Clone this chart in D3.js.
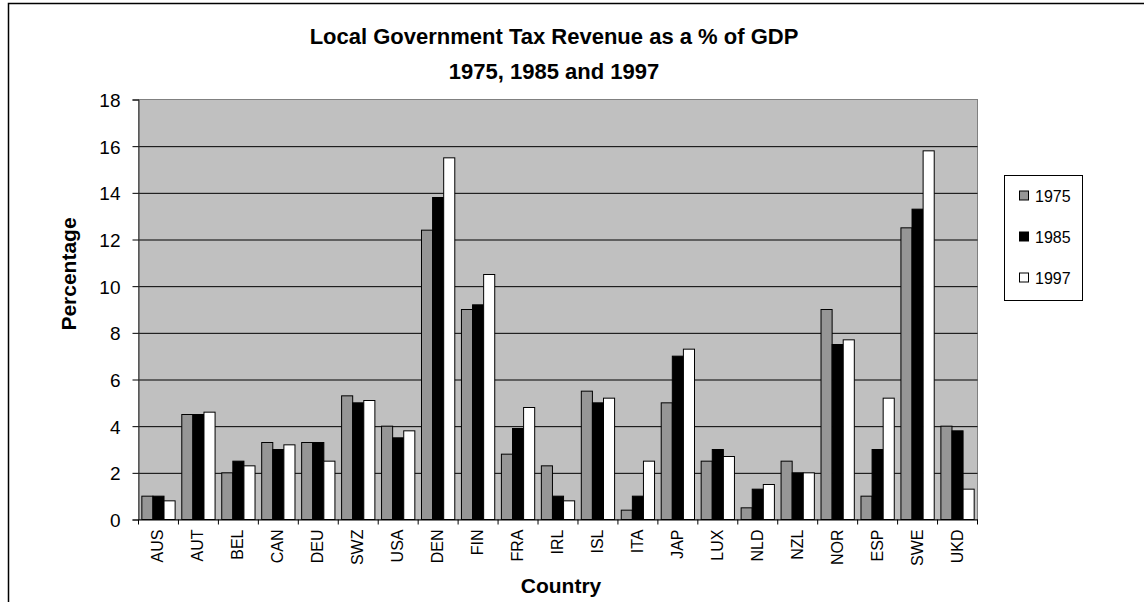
<!DOCTYPE html>
<html>
<head>
<meta charset="utf-8">
<script src="https://cdn.jsdelivr.net/npm/d3@7"></script>
<style>
  body { margin: 0; background: #fff; }
  svg { display: block; font-family: "Liberation Sans", Arial, sans-serif; }
  .axis text { fill: #000; }
</style>
</head>
<body>
<script>
let countries = ['AUS', 'AUT', 'BEL', 'CAN', 'DEU', 'SWZ', 'USA', 'DEN', 'FIN', 'FRA', 'IRL',
                 'ISL', 'ITA', 'JAP', 'LUX', 'NLD', 'NZL', 'NOR', 'ESP', 'SWE', 'UKD'];
let years = ['1975', '1985', '1997'];
let v1975 = [1.0, 4.5, 2.0, 3.3, 3.3, 5.3, 4.0, 12.4, 9.0, 2.8, 2.3, 5.5, 0.4, 5.0, 2.5, 0.5, 2.5, 9.0, 1.0, 12.5, 4.0];
let v1985 = [1.0, 4.5, 2.5, 3.0, 3.3, 5.0, 3.5, 13.8, 9.2, 3.9, 1.0, 5.0, 1.0, 7.0, 3.0, 1.3, 2.0, 7.5, 3.0, 13.3, 3.8];
let v1997 = [0.8, 4.6, 2.3, 3.2, 2.5, 5.1, 3.8, 15.5, 10.5, 4.8, 0.8, 5.2, 2.5, 7.3, 2.7, 1.5, 2.0, 7.7, 5.2, 15.8, 1.3];
let yTicks = [0, 2, 4, 6, 8, 10, 12, 14, 16, 18];
let titleLines = ['Local Government Tax Revenue as a % of GDP', '1975, 1985 and 1997'];

let colors = { '1975': '#969696', '1985': '#000000', '1997': '#ffffff' };

let rows = countries.map(function(c, i) {
  return { country: c, values: [
    { year: '1975', value: v1975[i] },
    { year: '1985', value: v1985[i] },
    { year: '1997', value: v1997[i] }
  ]};
});

let W = 1144, H = 602;
let plot = { left: 138.5, right: 977.5, top: 99.5, bottom: 519.5 };

let svg = d3.select('body').append('svg')
    .attr('width', W)
    .attr('height', H);

// chart border (runs off the picture on right and bottom)
svg.append('rect')
    .attr('x', 8.5).attr('y', 3.5)
    .attr('width', 1300).attr('height', 800)
    .attr('fill', '#fff')
    .attr('stroke', '#000')
    .attr('stroke-width', 1.5);

let x0 = d3.scaleBand()
    .domain(countries)
    .range([plot.left, plot.right])
    .paddingInner(0.167)
    .paddingOuter(0.0835);

let x1 = d3.scaleBand()
    .domain(years)
    .range([0, x0.bandwidth()]);

let y = d3.scaleLinear()
    .domain([0, 18])
    .range([plot.bottom, plot.top]);

// plot background
svg.append('rect')
    .attr('x', plot.left).attr('y', plot.top)
    .attr('width', plot.right - plot.left)
    .attr('height', plot.bottom - plot.top)
    .attr('fill', '#c0c0c0')
    .attr('stroke', '#808080')
    .attr('stroke-width', 1);

// gridlines
svg.append('g')
    .attr('class', 'grid')
    .attr('transform', 'translate(' + plot.left + ',0)')
    .call(d3.axisLeft(y).tickValues(yTicks.slice(1, -1)).tickSize(-(plot.right - plot.left)).tickFormat(''))
    .call(function(g) { g.select('.domain').remove(); })
    .selectAll('line')
      .attr('stroke', '#000')
      .attr('stroke-width', 1);

// bars
let groups = svg.append('g').selectAll('g')
    .data(rows)
  .enter().append('g')
    .attr('transform', function(d) { return 'translate(' + x0(d.country) + ',0)'; });

groups.selectAll('rect')
    .data(function(d) { return d.values; })
  .enter().append('rect')
    .attr('x', function(d) { return x1(d.year); })
    .attr('y', function(d) { return y(d.value); })
    .attr('width', x1.bandwidth())
    .attr('height', function(d) { return y(0) - y(d.value); })
    .attr('fill', function(d) { return colors[d.year]; })
    .attr('stroke', '#000')
    .attr('stroke-width', 1);

// y axis
let yAxis = svg.append('g')
    .attr('class', 'axis')
    .attr('transform', 'translate(' + plot.left + ',0)')
    .call(d3.axisLeft(y).tickValues(yTicks).tickSize(6).tickPadding(12));
yAxis.select('.domain').attr('stroke', '#333');
yAxis.selectAll('line').attr('stroke', '#000');
yAxis.selectAll('text')
    .attr('font-size', '19px')
    .attr('dy', '0.36em');

// x axis: labels + ticks at category boundaries
let xAxis = svg.append('g')
    .attr('class', 'axis')
    .attr('transform', 'translate(0,' + plot.bottom + ')')
    .call(d3.axisBottom(x0).tickSize(0).tickPadding(0));
xAxis.select('.domain').attr('stroke', '#000');
xAxis.selectAll('text')
    .attr('font-size', '16px')
    .attr('text-anchor', 'end')
    .attr('transform', 'translate(5,10) rotate(-90)')
    .attr('x', 0).attr('y', 0).attr('dy', 0);

let bounds = d3.range(countries.length + 1).map(function(i) {
  return x0.range()[0] + i * x0.step();
});
xAxis.selectAll('.bound')
    .data(bounds)
  .enter().append('line')
    .attr('class', 'bound')
    .attr('x1', function(d) { return d; })
    .attr('x2', function(d) { return d; })
    .attr('y1', 0).attr('y2', 5)
    .attr('stroke', '#000');

// title
svg.append('text')
    .attr('x', 554).attr('y', 44)
    .attr('text-anchor', 'middle')
    .attr('font-size', '22px')
    .attr('font-weight', 'bold')
  .selectAll('tspan')
    .data(titleLines)
  .enter().append('tspan')
    .attr('x', 554)
    .attr('dy', function(d, i) { return i ? 35 : 0; })
    .text(function(d) { return d; });

// axis titles
svg.append('text')
    .attr('x', 561).attr('y', 593)
    .attr('text-anchor', 'middle')
    .attr('font-size', '21px')
    .attr('font-weight', 'bold')
    .text('Country');

svg.append('text')
    .attr('transform', 'translate(76,274) rotate(-90)')
    .attr('text-anchor', 'middle')
    .attr('font-size', '21px')
    .attr('font-weight', 'bold')
    .text('Percentage');

// legend
let legend = svg.append('g')
    .attr('transform', 'translate(1004,175.5)');
legend.append('rect')
    .attr('x', 0.5).attr('y', 0)
    .attr('width', 78).attr('height', 125)
    .attr('fill', '#fff')
    .attr('stroke', '#000');

let items = legend.selectAll('.item')
    .data(years)
  .enter().append('g')
    .attr('class', 'item')
    .attr('transform', function(d, i) { return 'translate(15,' + (20.5 + i * 41) + ')'; });
items.append('rect')
    .attr('x', 0.5).attr('y', -5)
    .attr('width', 9).attr('height', 9)
    .attr('fill', function(d) { return colors[d]; })
    .attr('stroke', '#000');
items.append('text')
    .attr('x', 16).attr('y', 0)
    .attr('dy', '0.36em')
    .attr('font-size', '16px')
    .text(function(d) { return d; });
</script>
</body>
</html>
